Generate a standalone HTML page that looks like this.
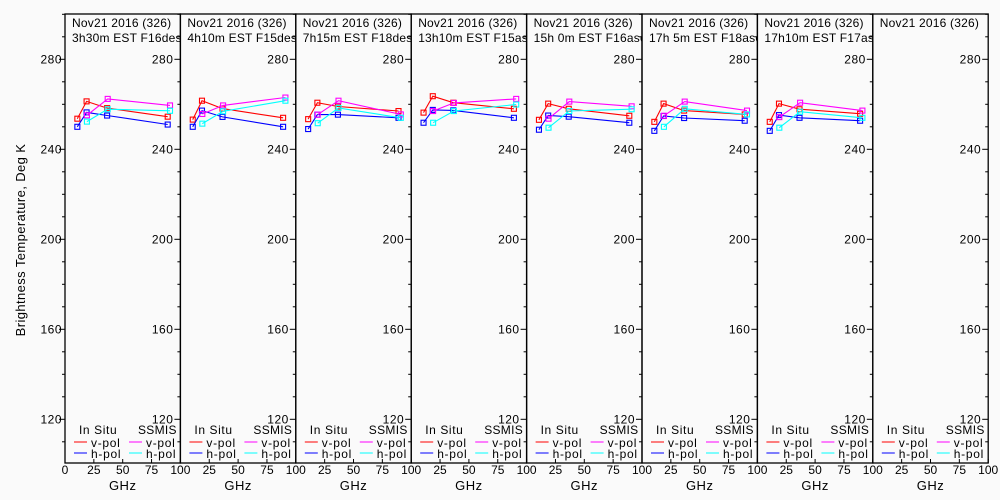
<!DOCTYPE html>
<html><head><meta charset="utf-8"><style>
body{margin:0;background:#fafafa;}
svg{display:block;font-family:"Liberation Sans",sans-serif;}
</style></head><body>
<svg id="c" width="1000" height="500"></svg>
<script>
const titles1=["Nov21 2016 (326)","Nov21 2016 (326)","Nov21 2016 (326)","Nov21 2016 (326)","Nov21 2016 (326)","Nov21 2016 (326)","Nov21 2016 (326)","Nov21 2016 (326)"];
const titles2=["3h30m EST F16des","4h10m EST F15des","7h15m EST F18des","13h10m EST F15asc","15h 0m EST F16asc","17h 5m EST F18asc","17h10m EST F17asc",""];
const insituFreq=[10.7,18.7,36.5,89];
const ssmisFreq=[19,37,91];
const insituV=[[253.6,261.3,258.3,254.5],[253.2,261.6,258.1,254],[253.4,260.7,259,257],[256.3,263.6,260.7,258],[253.1,260.3,258,254.9],[252.2,260.3,257.2,255.5],[252.2,260.3,257.8,255.8],null];
const insituH=[[250,256.4,255,251],[250,257.2,254.4,250],[249,255.4,255.4,254],[251.8,257.5,257.3,254],[248.7,255,254.5,251.8],[248.2,254.8,253.9,252.7],[248.2,255.2,254,252.7],null];
const ssmisV=[[255.1,262.4,259.5],[255.7,259.5,263],[255.4,261.6,255.5],[257,260.6,262.4],[253.6,261.2,259.1],[254.9,261.2,257.2],[254.3,260.7,257.2],null];
const ssmisH=[[252.3,257.8,257.1],[251.4,256.9,261.6],[251.6,258.4,254],[251.8,257,259.9],[249.6,257,257.8],[250,258,255.5],[249.6,256.7,254],null];
const yTicks=[120,160,200,240,280];
const xTicks=[0,25,50,75,100];

const NS="http://www.w3.org/2000/svg";
const svg=document.getElementById('c');
const X0=65,PW=115.4,TOP=14,BOT=463;
function yS(t){return 59.3+(280-t)*2.25;}
function xS(i,f){return X0+i*PW+f/100*PW;}
function mk(tag,attrs,parent){const e=document.createElementNS(NS,tag);for(const k in attrs)e.setAttribute(k,attrs[k]);(parent||svg).appendChild(e);return e;}
function txt(x,y,s,attrs,parent){const e=mk('text',Object.assign({x:x,y:y},attrs),parent);e.textContent=s;return e;}

const yl=txt(25,240,"Brightness Temperature, Deg K",{transform:"rotate(-90 25 240)","text-anchor":"middle","font-size":"13","letter-spacing":"0.4"});



for(let t=110;t<=300;t+=10){const maj=t%40===0;
  mk('line',{x1:X0-(maj?6:3),x2:X0,y1:yS(t),y2:yS(t),stroke:'#000'});}
yTicks.forEach(t=>{const e=txt(62,yS(t)+4,String(t),{"text-anchor":"end","font-size":"12","letter-spacing":"0.5"});
  
  });

const cols={iv:'#f00',ih:'#00f',sv:'#f0f',sh:'#0ff'};
for(let i=0;i<8;i++){
  const g=mk('g',{});
  
  
  const L=X0+i*PW,R=L+PW;
  const cp=mk('clipPath',{id:'cp'+i},g);mk('rect',{x:L,y:TOP,width:PW,height:BOT-TOP},cp);
  mk('rect',{x:L,y:TOP,width:PW,height:BOT-TOP,fill:'none',stroke:'#000','stroke-width':1.3},g);
  for(let t=110;t<=300;t+=10){const maj=t%40===0;
    mk('line',{x1:R-(maj?6:3),x2:R,y1:yS(t),y2:yS(t),stroke:'#000'},g);}
  yTicks.forEach(t=>{txt(R-7,yS(t)+4,String(t),{"text-anchor":"end","font-size":"12","letter-spacing":"0.5"},g);});
  const tg=mk('g',{'clip-path':'url(#cp'+i+')'},g);
  const t1=txt(L+7,27,titles1[i],{"font-size":"12","letter-spacing":"0.2"},tg);
  
  
  const t2=txt(L+7,42,titles2[i],{"font-size":"12","letter-spacing":"0.2"},tg);
  
  
  xTicks.forEach((v,k)=>{if(i>0&&k===0)return;
    const xx=xS(i,v);
    const e=txt(xx,474,String(v),{"text-anchor":"middle","font-size":"12"});
    
    
    mk('line',{x1:xx,x2:xx,y1:BOT,y2:BOT-4,stroke:'#000'},g);});
  const gx=txt(L+PW/2,490,"GHz",{"text-anchor":"middle","font-size":"13","letter-spacing":"0.5"});
  
  
  const lg=mk('g',{},g);
  
  
  txt(L+14,434,"In Situ",{"font-size":"12","letter-spacing":"0.6"},lg);
  txt(L+73,434,"SSMIS",{"font-size":"12","letter-spacing":"0.3"},lg);
  [[cols.iv,'v-pol',0,447],[cols.ih,'h-pol',0,458],[cols.sv,'v-pol',55,447],[cols.sh,'h-pol',55,458]].forEach(a=>{
    mk('line',{x1:L+9+a[2],x2:L+22+a[2],y1:a[3]-5,y2:a[3]-5,stroke:a[0]},lg);
    txt(L+26+a[2],a[3],a[1],{"font-size":"12","letter-spacing":"0.7"},lg);});
  const series=[[insituV[i],insituFreq,cols.iv,'insitu-vpol'],[insituH[i],insituFreq,cols.ih,'insitu-hpol'],[ssmisV[i],ssmisFreq,cols.sv,'ssmis-vpol'],[ssmisH[i],ssmisFreq,cols.sh,'ssmis-hpol']];
  series.forEach(s=>{if(!s[0])return;
    const pts=s[0].map((v,k)=>xS(i,s[1][k]).toFixed(1)+','+yS(v).toFixed(1)).join(' ');
    const pl=mk('polyline',{points:pts,fill:'none',stroke:s[2],'stroke-width':1.1},g);
    
    
    s[0].forEach((v,k)=>{const r=mk('rect',{x:xS(i,s[1][k])-2.5,y:yS(v)-2.5,width:5,height:5,fill:'none',stroke:s[2],'stroke-width':1.1},g);
      
      });});
}
</script>
</body></html>
